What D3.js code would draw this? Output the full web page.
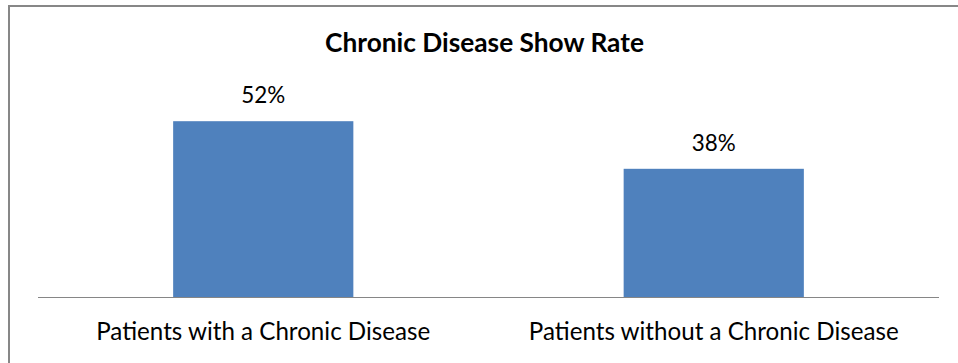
<!DOCTYPE html>
<html>
<head>
<meta charset="utf-8">
<script src="https://cdn.jsdelivr.net/npm/d3@7"></script>
<style>
  html, body { margin: 0; padding: 0; background: #fff; overflow: hidden; }
  svg { display: block; overflow: hidden; }
  text { font-family: Lato, "Open Sans", "Noto Sans", sans-serif; fill: #000; }
</style>
</head>
<body>
<svg id="chart" width="958" height="363"></svg>
<script>
// Chart data
const title = "Chronic Disease Show Rate";
const categories = ["Patients with a Chronic Disease", "Patients without a Chronic Disease"];
const showRates = [0.52, 0.38];
const yDomainMax = 0.6;

const W = 958, H = 363;
const svg = d3.select("#chart");

// Chart frame: left and top edges (the rest falls outside the view)
svg.append("path")
  .attr("d", `M9,${H + 2} V6 H${W + 2}`)
  .attr("fill", "none")
  .attr("stroke", "#878787")
  .attr("stroke-width", 2);

const plot = { left: 38, right: 939, top: 94, bottom: 298 };

const x = d3.scaleBand()
  .domain(categories)
  .range([plot.left, plot.right])
  .paddingInner(0.6)
  .paddingOuter(0.3);

const y = d3.scaleLinear()
  .domain([0, yDomainMax])
  .range([plot.bottom, plot.top]);

const pct = d3.format(".0%");

// Scale a text element's font size so it spans a given width
function fitWidth(sel, width) {
  sel.each(function () {
    const node = this;
    const base = parseFloat(d3.select(node).attr("font-size"));
    const w = node.getComputedTextLength();
    if (w > 0) d3.select(node).attr("font-size", (base * width / w).toFixed(2));
  });
}

// Bars
svg.append("g")
  .selectAll("rect")
  .data(categories)
  .join("rect")
  .attr("x", d => x(d))
  .attr("y", (d, i) => y(showRates[i]))
  .attr("width", x.bandwidth())
  .attr("height", (d, i) => y(0) - y(showRates[i]))
  .attr("fill", "#4F81BD");

// Category axis line
svg.append("line")
  .attr("x1", plot.left).attr("x2", plot.right)
  .attr("y1", y(0) - 0.5).attr("y2", y(0) - 0.5)
  .attr("stroke", "#868686")
  .attr("stroke-width", 1);

// Value labels above bars
const valueLabels = svg.append("g")
  .selectAll("text")
  .data(categories)
  .join("text")
  .attr("x", d => x(d) + x.bandwidth() / 2)
  .attr("y", (d, i) => y(showRates[i]) - 18)
  .attr("text-anchor", "middle")
  .attr("font-size", 22)
  .text((d, i) => pct(showRates[i]));
fitWidth(valueLabels, 44);

// Category labels
const catLabels = svg.append("g")
  .selectAll("text")
  .data(categories)
  .join("text")
  .attr("x", d => x(d) + x.bandwidth() / 2)
  .attr("y", 340)
  .attr("text-anchor", "middle")
  .attr("font-size", 22)
  .text(d => d);
fitWidth(catLabels.filter((d, i) => i === 0), 334);
catLabels.filter((d, i) => i === 1).attr("font-size", catLabels.filter((d, i) => i === 0).attr("font-size"));

// Title
const titleText = svg.append("text")
  .attr("x", 484.5)
  .attr("y", 52)
  .attr("text-anchor", "middle")
  .attr("font-weight", "bold")
  .attr("font-size", 22)
  .text(title);
fitWidth(titleText, 319);
</script>
</body>
</html>
